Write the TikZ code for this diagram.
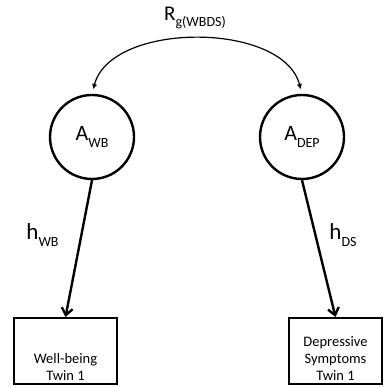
\documentclass[tikz,border=0pt]{standalone}
\usepackage{fontspec}
\setmainfont{Carlito}
\usetikzlibrary{
    arrows.meta,
    positioning
}
% lowered subscript in text font
\newcommand{\lowsub}[2][14]{\raisebox{-0.28em}{\fontsize{#1}{#1}\selectfont #2}}
\tikzset{
    % Latent factors
    latent/.style={
        circle,
        draw=black,
        line width=2.4pt,
        minimum size=84pt,
        inner sep=0pt,
        font=\fontsize{22}{22}\selectfont
    },
    % Measured variables
    observed/.style={
        rectangle,
        draw=black,
        line width=2pt,
        inner sep=0pt
    },
    boxtext/.style={
        align=center,
        inner sep=0pt,
        font=\fontsize{14.5}{16.7}\selectfont
    },
    % Paths
    loading/.style={
        -{Straight Barb[length=7pt,width=11pt]},
        line width=2.4pt
    },
    corr/.style={
        {Triangle[length=5pt,width=4.5pt]}-{Triangle[length=5pt,width=4.5pt]},
        line width=1.2pt,
        shorten <=5pt,
        shorten >=5pt
    },
    pathlabel/.style={
        inner sep=0pt,
        font=\fontsize{23}{23}\selectfont
    }
}
\begin{document}
\begin{tikzpicture}[x=1pt, y=1pt]

    \useasboundingbox (0,0) rectangle (383,387);

    % Genetic factors
    \node[latent] (awb) at (92,250) {A\lowsub{WB}};
    \node[latent] (adep) at (302,250) {A\lowsub{DEP}};

    % Genetic correlation
    \draw[corr] (awb.north) .. controls +(75:75) and +(105:75) .. (adep.north);
    \node[pathlabel, font=\fontsize{21}{21}\selectfont, anchor=base] (rg) at (195,366) {R\lowsub[14]{g(WBDS)}};

    % Phenotypes
    \node[observed, minimum width=103pt, minimum height=66.5pt] (wbbox) at (65.5,35.75) {};
    \node[observed, minimum width=93pt, minimum height=66.5pt] (dsbox) at (335.5,35.75) {};
    \node[boxtext, above=5pt of wbbox.south] (wbtext) {Well-being\\Twin 1};
    \node[boxtext, above=5pt of dsbox.south] (dstext) {Depressive\\Symptoms\\Twin 1};

    % Loadings
    \draw[loading] (awb.south) -- (wbbox.north);
    \draw[loading] (adep.south) -- (dsbox.north);
    \node[pathlabel, anchor=base] (hwb) at (42.5,147) {h\lowsub{WB}};
    \node[pathlabel, anchor=base] (hds) at (343,147) {h\lowsub{DS}};

\end{tikzpicture}
\end{document}
